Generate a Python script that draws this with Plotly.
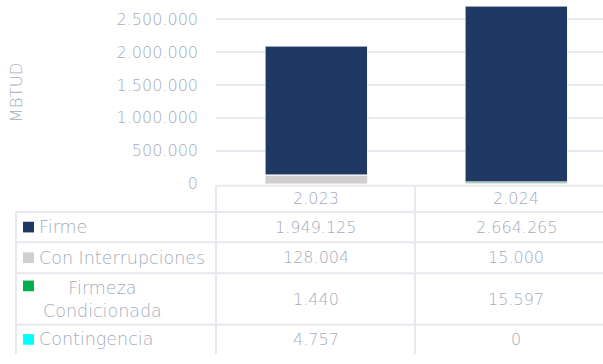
import plotly.graph_objects as go

# Volumes by year (MBTUD)
years = [2023, 2024]
series_names = ["Firme", "Con Interrupciones", "Firmeza Condicionada", "Contingencia"]
firme = [1949125, 2664265]
con_interrupciones = [128004, 15000]
firmeza_condicionada = [1440, 15597]
contingencia = [4757, 0]
y_ticks = [0, 500000, 1000000, 1500000, 2000000, 2500000]

colors = {
    "Firme": "#203864",
    "Con Interrupciones": "#d0cece",
    "Firmeza Condicionada": "#00b050",
    "Contingencia": "#00ffff",
}
values = {
    "Firme": firme,
    "Con Interrupciones": con_interrupciones,
    "Firmeza Condicionada": firmeza_condicionada,
    "Contingencia": contingencia,
}

W, H = 603, 364
FONT = "DejaVu Sans ExtraLight, DejaVu Sans"
TXT = "#a3adbc"
GRID = "#e6e9ee"


def fx(px):
    return px / W


def fy(py):
    return 1 - py / H


def dots(v):
    return f"{v:,}".replace(",", ".")


def tfont(size):
    return dict(family=FONT, size=size, color=TXT, weight=200)


fig = go.Figure()
xs = list(range(len(years)))
# stacking order from the bottom up
for name in ["Con Interrupciones", "Firmeza Condicionada", "Contingencia", "Firme"]:
    fig.add_trace(go.Bar(
        x=xs, y=values[name], name=name, width=0.51,
        marker=dict(color=colors[name], line=dict(color="#f2f2f2", width=0.6)),
        showlegend=False,
    ))

zero_px = 189
px_per_unit = 169.5 / 2500000
y_top = zero_px / px_per_unit

fig.update_layout(
    width=W, height=H, autosize=False, barmode="stack",
    margin=dict(l=0, r=0, t=0, b=0, pad=0),
    paper_bgcolor="white", plot_bgcolor="white",
    separators=",.",
    font=tfont(16),
    xaxis=dict(domain=[fx(216), 1], range=[-0.5, -0.5 + (W - 216) / 200],
               showticklabels=False, showgrid=False, zeroline=False, fixedrange=True),
    yaxis=dict(domain=[fy(zero_px), 1], range=[0, y_top], tickvals=y_ticks,
               tickformat=",d", showgrid=True, gridcolor=GRID, gridwidth=1.5,
               zeroline=False, ticks="", ticklabelstandoff=17,
               tickfont=tfont(16)),
)


def label(x, y, text, **kw):
    kw.setdefault("xanchor", "center")
    fig.add_annotation(xref="paper", yref="paper", x=fx(x), y=fy(y), text=text,
                       yanchor="middle", showarrow=False, **kw)


# axis title
label(16, 95, "MBTUD", textangle=-90, font=tfont(16.5))

# data table below the plot
line = dict(color=GRID, width=2)
rows_y = [191, 218, 249, 281, 334, 364]

fig.add_shape(type="line", xref="paper", yref="paper",
              x0=fx(216), x1=1, y0=fy(rows_y[0]), y1=fy(rows_y[0]), line=line)
for yy in rows_y[1:5]:
    fig.add_shape(type="line", xref="paper", yref="paper",
                  x0=fx(16), x1=1, y0=fy(yy), y1=fy(yy), line=line)
fig.add_shape(type="line", xref="paper", yref="paper",
              x0=fx(16), x1=fx(16), y0=fy(218), y1=0, line=line)
for xx in [216, 415]:
    fig.add_shape(type="line", xref="paper", yref="paper",
                  x0=fx(xx), x1=fx(xx), y0=fy(191), y1=0, line=line)

col_centers = [316, 516]
num_font = tfont(16)
name_font = tfont(17.5)

for i, yr in enumerate(years):
    label(col_centers[i], (rows_y[0] + rows_y[1]) / 2, dots(yr), font=num_font)

for r, name in enumerate(series_names):
    top, bot = rows_y[r + 1], rows_y[r + 2]
    mid = (top + bot) / 2
    for i in range(len(years)):
        label(col_centers[i], mid, dots(values[name][i]), font=num_font)
    if name == "Firmeza Condicionada":
        sq_y = 294
        label(102, mid, "Firmeza<br>Condicionada", align="center", font=name_font)
    else:
        sq_y = mid
        label(37, mid, name, xanchor="left", font=name_font)
    fig.add_shape(type="rect", xref="paper", yref="paper",
                  x0=fx(23), x1=fx(34), y0=fy(sq_y - 5.5), y1=fy(sq_y + 5.5),
                  fillcolor=colors[name], line=dict(width=0))

fig.write_html("out.html")
